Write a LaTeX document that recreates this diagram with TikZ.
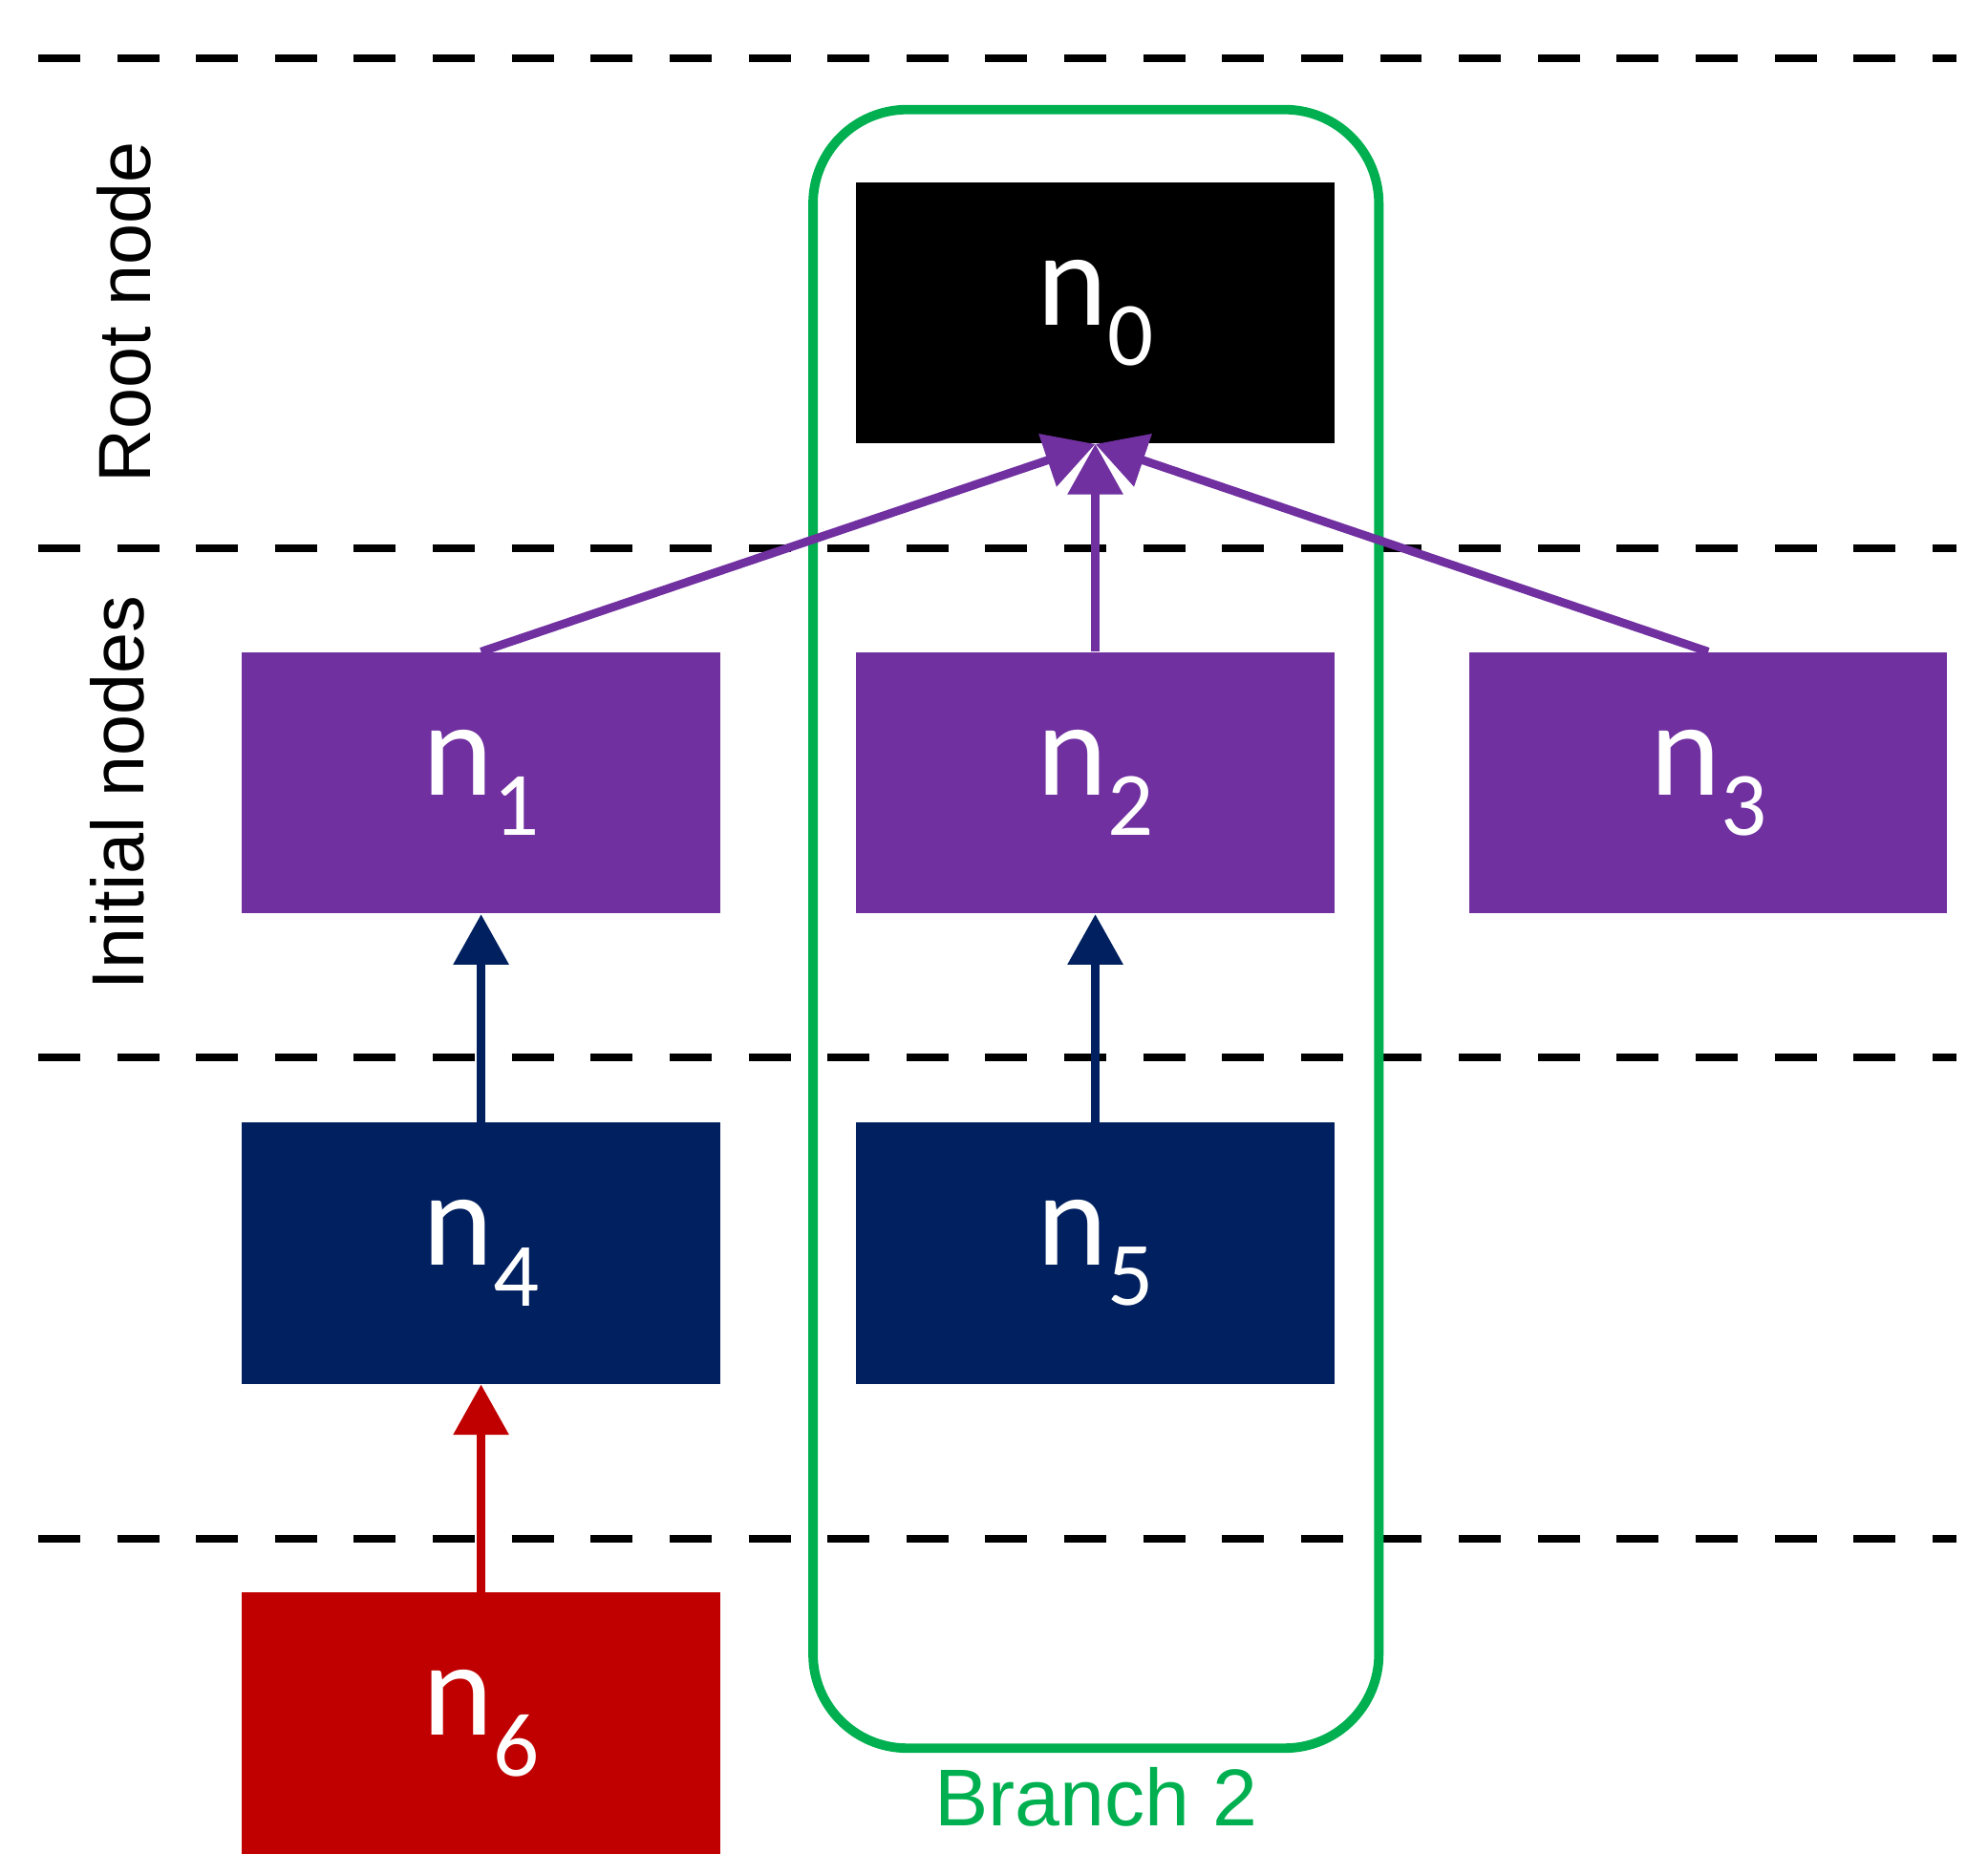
\documentclass[tikz,border=0pt]{standalone}
\usepackage{fontspec}
\setmainfont{Liberation Sans}
\newfontfamily\carl{Carlito}
\usetikzlibrary{arrows.meta}
\definecolor{pur}{HTML}{7030A0}
\definecolor{nav}{HTML}{002060}
\definecolor{rd}{HTML}{C00000}
\definecolor{grn}{HTML}{00B050}
\newcommand\nl[1]{\raisebox{-0.3em}{\carl n\raisebox{-0.3em}{\fontsize{27}{27}\selectfont #1}}}
\begin{document}
\begin{tikzpicture}[x=0.01333cm,y=-0.01333cm,
  box/.style={minimum width=375*0.01333cm,minimum height=205*0.01333cm,inner sep=0,text=white,font=\carl\fontsize{40}{40}\selectfont},
  dl/.style={line width=2.3pt,dash pattern=on 12.5pt off 11pt},
  ar/.style={line width=2.5pt,-{Triangle[width=16pt,length=15pt]}}]
\useasboundingbox (0,0) rectangle (1560,1471);
\foreach \y in {46,430,830,1208} \draw[dl] (30,\y) -- (1535,\y);
\draw[grn,line width=2.8pt,rounded corners=28pt] (638,86) rectangle (1082,1372);
\node[grn,font=\fontsize{24}{24}\selectfont] (br) at (860,1410) {Branch 2};
\node[rotate=90,font=\fontsize{22}{22}\selectfont] (rn) at (97,245) {Root node};
\node[rotate=90,font=\fontsize{22}{22}\selectfont] (in) at (92,622) {Initial nodes};
\node[box,fill=black] (n0) at (859.5,245.5) {\nl{0}};
\node[box,fill=pur] (n1) at (377.5,614.5) {\nl{1}};
\node[box,fill=pur] (n2) at (859.5,614.5) {\nl{2}};
\node[box,fill=pur] (n3) at (1340.5,614.5) {\nl{3}};
\node[box,fill=nav] (n4) at (377.5,983.5) {\nl{4}};
\node[box,fill=nav] (n5) at (859.5,983.5) {\nl{5}};
\node[box,fill=rd] (n6) at (377.5,1352.5) {\nl{6}};
\draw[ar,pur] (n1.north) -- (n0.south);
\draw[ar,pur] (n2.north) -- (n0.south);
\draw[ar,pur] (n3.north) -- (n0.south);
\draw[ar,nav] (n4.north) -- (n1.south);
\draw[ar,nav] (n5.north) -- (n2.south);
\draw[ar,rd] (n6.north) -- (n4.south);
\end{tikzpicture}
\end{document}
